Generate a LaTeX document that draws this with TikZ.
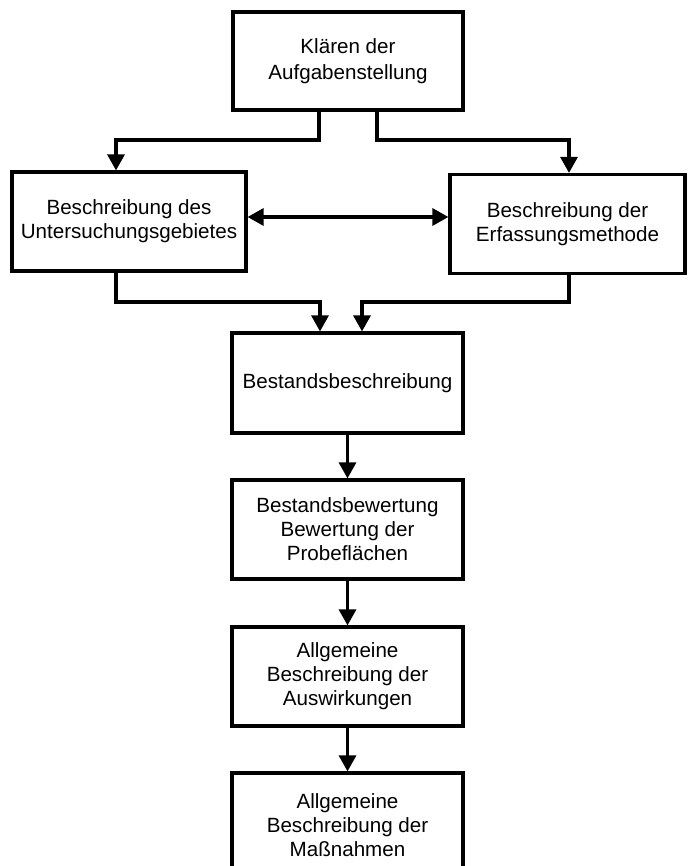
\documentclass[tikz,border=0pt]{standalone}
\usepackage{fontspec}
\setmainfont{Liberation Sans}
\usetikzlibrary{arrows.meta}
\begin{document}
\begin{tikzpicture}[x=1pt,y=-1pt,
 box/.style={draw, line width=3.2pt, align=center, inner sep=0pt,
   font=\fontsize{20.6}{24}\selectfont},
 tip/.tip={Triangle[width=17pt,length=16pt]},
 conn/.style={line width=3.2pt, -tip},
 dconn/.style={line width=3.2pt, tip-tip}]
\useasboundingbox (0,0) rectangle (687,866);
\clip (0,0) rectangle (687,866);
\node[box, minimum width=230pt, minimum height=98pt] (top) at (348,61) {Klären der\\[2pt]Aufgabenstellung};
\node[box, minimum width=234pt, minimum height=99pt] (left) at (129,221.5) {Beschreibung des\\Untersuchungsgebietes};
\node[box, minimum width=235pt, minimum height=99pt] (right) at (567.5,224) {Beschreibung der\\Erfassungsmethode};
\node[box, minimum width=231pt, minimum height=100pt] (b1) at (347.5,383) {Bestandsbeschreibung};
\node[box, minimum width=231pt, minimum height=99pt] (b2) at (347.5,529.5) {Bestandsbewertung\\Bewertung der\\Probeflächen};
\node[box, minimum width=231pt, minimum height=99pt] (b3) at (347.5,676.5) {Allgemeine\\Beschreibung der\\Auswirkungen};
\node[box, minimum width=231pt, minimum height=105pt] (b4) at (347.5,825.5) {Allgemeine\\Beschreibung der\\Maßnahmen};
% helper coordinates
\coordinate (tl) at (319,0);
\coordinate (tr) at (377,0);
\coordinate (lx) at (116,0);
\coordinate (rx) at (569,0);
\coordinate (bl) at (320,0);
\coordinate (br) at (362,0);
\coordinate (dy) at (0,217);
\coordinate (hy1) at (0,140);
\coordinate (hy2) at (0,302);
% connectors
\draw[conn] (tl |- top.south) -- (tl |- hy1) -- (lx |- hy1) -- (lx |- left.north);
\draw[conn] (tr |- top.south) -- (tr |- hy1) -- (rx |- hy1) -- (rx |- right.north);
\draw[dconn] (left.east |- dy) -- (right.west |- dy);
\draw[conn] (lx |- left.south) -- (lx |- hy2) -- (bl |- hy2) -- (bl |- b1.north);
\draw[conn] (rx |- right.south) -- (rx |- hy2) -- (br |- hy2) -- (br |- b1.north);
\draw[conn] (b1.south) -- (b2.north);
\draw[conn] (b2.south) -- (b3.north);
\draw[conn] (b3.south) -- (b4.north);
\end{tikzpicture}
\end{document}
